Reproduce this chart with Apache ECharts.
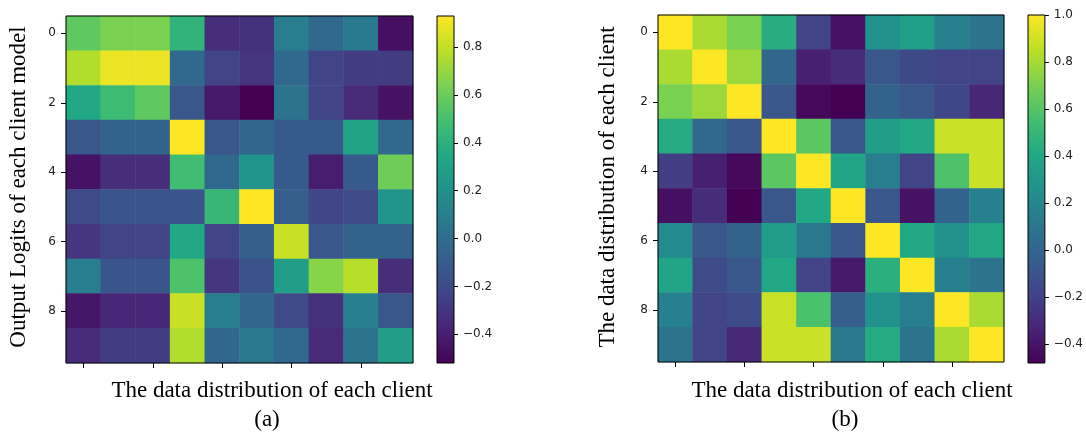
<!DOCTYPE html>
<html>
<head>
<meta charset="utf-8">
<script src="https://cdn.jsdelivr.net/npm/echarts@6/dist/echarts.min.js"></script>
<style>
html,body{margin:0;padding:0;background:#fff;}
#chart{width:1086px;height:434px;}
</style>
</head>
<body>
<div id="chart"></div>
<script>
// ---- data ----
const rowLabels = ['0','1','2','3','4','5','6','7','8','9'];
const colLabels = ['0','1','2','3','4','5','6','7','8','9'];

// (a) Output logits similarity: rows = client model, cols = data distribution
const logitsMatrix = [
  [0.57, 0.64, 0.64, 0.42, -0.33, -0.32, 0.09, -0.03, 0.07, -0.46],
  [0.76, 0.89, 0.89, -0.03, -0.23, -0.30, -0.03, -0.23, -0.26, -0.26],
  [0.35, 0.47, 0.57, -0.13, -0.42, -0.52, 0.03, -0.23, -0.35, -0.45],
  [-0.13, -0.06, -0.06, 0.93, -0.13, -0.04, -0.11, -0.11, 0.32, -0.03],
  [-0.45, -0.33, -0.33, 0.48, -0.03, 0.23, -0.11, -0.40, -0.11, 0.61],
  [-0.20, -0.14, -0.14, -0.14, 0.44, 0.93, -0.09, -0.22, -0.19, 0.23],
  [-0.29, -0.23, -0.23, 0.35, -0.23, -0.09, 0.81, -0.13, -0.06, -0.06],
  [0.09, -0.14, -0.14, 0.52, -0.29, -0.16, 0.28, 0.67, 0.77, -0.33],
  [-0.43, -0.36, -0.36, 0.81, 0.09, -0.04, -0.20, -0.32, 0.10, -0.13],
  [-0.35, -0.26, -0.26, 0.76, -0.04, 0.06, -0.03, -0.35, 0.03, 0.28]
];

// (b) Data distribution similarity
const distMatrix = [
  [1.00, 0.81, 0.70, 0.44, -0.18, -0.41, 0.26, 0.35, 0.16, 0.08],
  [0.81, 1.00, 0.78, 0.01, -0.35, -0.29, -0.08, -0.15, -0.18, -0.18],
  [0.70, 0.78, 1.00, -0.08, -0.45, -0.48, -0.01, -0.08, -0.17, -0.32],
  [0.42, 0.02, -0.08, 1.00, 0.62, -0.08, 0.34, 0.41, 0.88, 0.88],
  [-0.21, -0.35, -0.45, 0.62, 1.00, 0.38, 0.14, -0.18, 0.58, 0.88],
  [-0.42, -0.29, -0.48, -0.08, 0.41, 1.00, -0.08, -0.41, -0.01, 0.16],
  [0.22, -0.08, -0.01, 0.33, 0.11, -0.08, 1.00, 0.41, 0.26, 0.40],
  [0.38, -0.14, -0.08, 0.40, -0.18, -0.38, 0.45, 1.00, 0.16, 0.08],
  [0.16, -0.18, -0.14, 0.88, 0.57, -0.04, 0.26, 0.14, 1.00, 0.81],
  [0.08, -0.18, -0.31, 0.88, 0.88, 0.11, 0.42, 0.08, 0.81, 1.00]
];

const rangeA = [-0.52, 0.93];
const rangeB = [-0.48, 1.0];
const cbarTicksA = [-0.4, -0.2, 0.0, 0.2, 0.4, 0.6, 0.8];
const cbarTicksB = [-0.4, -0.2, 0.0, 0.2, 0.4, 0.6, 0.8, 1.0];
const yTickLabels = ['0','2','4','6','8'];

const titleAY = 'Output Logits of each client model';
const titleAX = 'The data distribution of each client';
const titleBY = 'The data distribution of each client';
const titleBX = 'The data distribution of each client';
const captionA = '(a)';
const captionB = '(b)';

// ---- styling ----
const viridis = ['#440154','#482475','#414487','#355f8d','#2a788e','#21918c','#22a884','#44bf70','#7ad151','#bddf26','#fde725'];
const serif = "'Liberation Serif','Times New Roman',serif";
const sans = "'DejaVu Sans',sans-serif";
const tickColor = '#222';

function toCells(m) {
  const out = [];
  m.forEach((row, r) => row.forEach((v, c) => out.push([c, r, v])));
  return out;
}
function fmt(v) {
  return (v < 0 ? '\u2212' : '') + Math.abs(v).toFixed(1);
}

const chart = echarts.init(document.getElementById('chart'), null, {renderer: 'canvas'});

const gridBase = {show: true, z: 10, backgroundColor: 'transparent', borderColor: '#000', borderWidth: 1};
const grids = [
  Object.assign({left: 66, top: 16, width: 347, height: 347}, gridBase),
  {left: 437, top: 16, width: 17, height: 347},
  Object.assign({left: 658, top: 15, width: 346, height: 347}, gridBase),
  {left: 1028, top: 15, width: 17, height: 348}
];

function heatX(gi) {
  return {
    type: 'category', gridIndex: gi, data: colLabels, position: 'bottom',
    axisLine: {show: false},
    axisTick: {show: true, alignWithLabel: true, interval: 1, length: 5, lineStyle: {color: '#000', width: 1}},
    axisLabel: {show: false, interval: 1},
    splitLine: {show: false}
  };
}
function heatY(gi) {
  return {
    type: 'category', gridIndex: gi, data: rowLabels, inverse: true,
    axisLine: {show: false},
    axisTick: {show: true, alignWithLabel: true, interval: 1, length: 5, lineStyle: {color: '#000', width: 1}},
    axisLabel: {show: true, interval: 1, margin: 10, color: tickColor, fontFamily: sans, fontSize: 12,
      formatter: v => (yTickLabels.indexOf(v) >= 0 ? v : '')},
    splitLine: {show: false}
  };
}
function cbarX(gi) {
  return {type: 'category', gridIndex: gi, data: ['c'], show: false};
}
function cbarY(gi, range, ticks) {
  return {
    type: 'value', gridIndex: gi, min: range[0], max: range[1], position: 'right',
    axisLine: {show: false},
    splitLine: {show: false},
    axisTick: {show: true, length: 4, customValues: ticks, lineStyle: {color: '#000', width: 1}},
    axisLabel: {show: true, customValues: ticks, margin: 9, color: tickColor, fontFamily: sans, fontSize: 12, formatter: fmt}
  };
}

function cbarSeries(xi, range) {
  return {
    type: 'custom', xAxisIndex: xi, yAxisIndex: xi, silent: true, z: 5,
    data: [[0, range[0], range[1]]],
    renderItem: function (params, api) {
      const pLow = api.coord([api.value(0), api.value(1)]);
      const pHigh = api.coord([api.value(0), api.value(2)]);
      const w = api.size([1, 0])[0];
      const stops = viridis.map((c, i) => ({offset: 1 - i / (viridis.length - 1), color: c})).reverse();
      return {
        type: 'rect',
        shape: {x: pHigh[0] - w / 2, y: pHigh[1], width: w, height: pLow[1] - pHigh[1]},
        style: {fill: new echarts.graphic.LinearGradient(0, 0, 0, 1, stops), stroke: '#000', lineWidth: 1}
      };
    }
  };
}

function txt(text, x, y, rot) {
  return {
    type: 'text', x: x, y: y, rotation: rot || 0, silent: true,
    style: {text: text, fill: '#000', font: '23px ' + serif, align: 'center', verticalAlign: 'middle'}
  };
}

const option = {
  backgroundColor: '#fff',
  animation: false,
  grid: grids,
  xAxis: [heatX(0), cbarX(1), heatX(2), cbarX(3)],
  yAxis: [heatY(0), cbarY(1, rangeA, cbarTicksA), heatY(2), cbarY(3, rangeB, cbarTicksB)],
  visualMap: [
    {type: 'continuous', show: false, seriesIndex: 0, min: rangeA[0], max: rangeA[1], inRange: {color: viridis}},
    {type: 'continuous', show: false, seriesIndex: 2, min: rangeB[0], max: rangeB[1], inRange: {color: viridis}}
  ],
  series: [
    {type: 'heatmap', xAxisIndex: 0, yAxisIndex: 0, data: toCells(logitsMatrix), emphasis: {disabled: true}, progressive: 0},
    cbarSeries(1, rangeA),
    {type: 'heatmap', xAxisIndex: 2, yAxisIndex: 2, data: toCells(distMatrix), emphasis: {disabled: true}, progressive: 0},
    cbarSeries(3, rangeB)
  ],
  graphic: [
    txt(titleAY, 19, 187, Math.PI / 2),
    txt(titleAX, 272, 391),
    txt(captionA, 267, 420),
    txt(titleBY, 608, 187, Math.PI / 2),
    txt(titleBX, 852, 391),
    txt(captionB, 845, 420)
  ]
};
chart.setOption(option);
</script>
</body>
</html>
